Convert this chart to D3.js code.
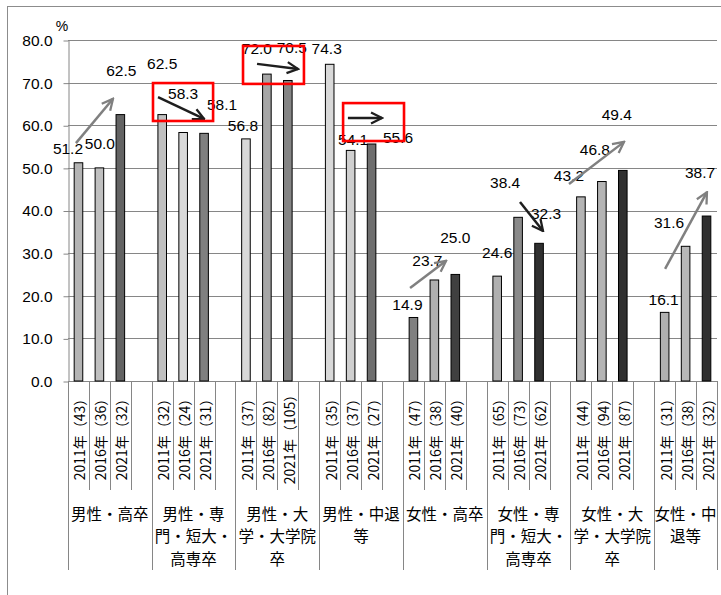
<!DOCTYPE html>
<html><head><meta charset="utf-8">
<script src="https://cdn.jsdelivr.net/npm/d3@7"></script>
<style>body{margin:0;background:#fff} svg{display:block}</style>
</head><body><svg id="c" width="721" height="595"></svg>
<script>
// ---- data ----
const groups = ["男性・高卒","男性・専門・短大・高専卒","男性・大学・大学院卒","男性・中退等","女性・高卒","女性・専門・短大・高専卒","女性・大学・大学院卒","女性・中退等"];
const groupLines = [["男性・高卒"],["男性・専","門・短大・","高専卒"],["男性・大","学・大学院","卒"],["男性・中退","等"],["女性・高卒"],["女性・専","門・短大・","高専卒"],["女性・大","学・大学院","卒"],["女性・中","退等"]];
const years = ["2011年","2016年","2021年"];
const counts = [[43,36,32],[32,24,31],[37,82,105],[35,37,27],[47,38,40],[65,73,62],[44,94,87],[31,38,32]];
const values = [[51.2,50.0,62.5],[62.5,58.3,58.1],[56.8,72.0,70.5],[74.3,54.1,55.6],[14.9,23.7,25.0],[24.6,38.4,32.3],[43.2,46.8,49.4],[16.1,31.6,38.7]];
const yTicks = [0,10,20,30,40,50,60,70,80];
const unitLabel = "%";

// ---- styles / layout (kept apart from data) ----
const barFills = [["#b4b4b4","#c0c0c0","#636363"],["#c0c0c0","#d9d9d9","#808080"],["#d9d9d9","#a6a6a6","#858585"],["#d9d9d9","#d0d0d0","#6e6e6e"],["#808080","#b0b0b0","#404040"],["#b0b0b0","#8a8a8a","#303030"],["#b4b4b4","#b4b4b4","#303030"],["#b0b0b0","#b8b8b8","#303030"]];
const labelOffsets = [[[-10.5,-14],[0.5,-24],[1,-44]],[[0,-51],[0,-38.5],[18,-29]],[[-3,-13.5],[-10,-26],[4,-32.5]],[[-3,-16],[2.5,-10.5],[26.5,-6.5]],[[-6,-13],[-7,-19.5],[0,-36.5]],[[0,-23.5],[-13,-34.5],[7,-30]],[[-12,-21],[-7,-32.5],[-6,-56]],[[-1,-13],[-16.5,-24],[-6.5,-43.5]]];
// annotations in (slot units, value units)
const arrows = [
  {from:[0.38,55.8], to:[2.15,66.2], color:"#808080"},
  {from:[4.30,66.6], to:[6.50,61.5], color:"#1e1e1e"},
  {from:[9.03,74.4], to:[10.99,73.2], color:"#1e1e1e"},
  {from:[13.37,61.7], to:[15.0,61.7], color:"#1e1e1e"},
  {from:[16.34,21.8], to:[18.06,28.2], color:"#808080"},
  {from:[21.59,42.0], to:[22.69,35.2], color:"#1e1e1e"},
  {from:[23.93,46.2], to:[26.56,56.1], color:"#808080"},
  {from:[28.52,26.3], to:[30.52,44.3], color:"#808080"}
];
const boxes = [
  {u:[4.06,6.93], v:[69.9,61.0]},
  {u:[8.36,11.27], v:[78.6,69.7]},
  {u:[13.14,16.05], v:[65.2,56.3]}
];

const numFont = "'Liberation Sans', Arial, sans-serif";
const jpFont = "'Noto Sans CJK JP', sans-serif";
const gridColor = "#868686";

const svg = d3.select("#c");

// outer frame
svg.append("rect").attr("x",7.5).attr("y",6.5).attr("width",800).attr("height",800)
  .attr("fill","none").attr("stroke","#8c8c8c").attr("stroke-width",1);

// slots
const slots = [];
groups.forEach((g,gi)=>{
  years.forEach((yr,yi)=>slots.push({key:gi+"_"+yi, gi, yi}));
  if(gi < groups.length-1) slots.push({key:gi+"_gap", gi, gap:true});
});

const x = d3.scaleBand().domain(slots.map(d=>d.key)).range([68,717]).padding(0);
const y = d3.scaleLinear().domain([0,80]).range([381,40]);
const step = x.step();
const xu = u => x.range()[0] + u*step;

// gridlines
svg.append("g").selectAll("line").data(yTicks).join("line")
  .attr("x1",68).attr("x2",717)
  .attr("y1",d=>Math.round(y(d))+0.5).attr("y2",d=>Math.round(y(d))+0.5)
  .attr("stroke",gridColor).attr("stroke-width",1);

// y axis
const yAxis = svg.append("g").attr("transform","translate(68.5,0.5)")
  .call(d3.axisLeft(y).tickValues(yTicks).tickSize(5).tickSizeOuter(0).tickPadding(11).tickFormat(d3.format(".1f")));
yAxis.select(".domain").attr("stroke",gridColor);
yAxis.selectAll(".tick line").attr("stroke",gridColor);
yAxis.selectAll(".tick text").attr("font-family",numFont).attr("font-size",15.5).attr("fill","#000");

svg.append("text").attr("x",62).attr("y",26).attr("text-anchor","middle").attr("dominant-baseline","central")
  .attr("font-family",numFont).attr("font-size",14).text(unitLabel);

// category axis lines
const nB = slots.length;
const bounds = d3.range(nB+1);
svg.append("g").selectAll("line").data(bounds).join("line")
  .attr("x1",i=>Math.round(xu(i))+0.5).attr("x2",i=>Math.round(xu(i))+0.5)
  .attr("y1",381).attr("y2",i=>(i%4===0||i===nB)?570:490)
  .attr("stroke",gridColor).attr("stroke-width",1);

// bars
const barData = [];
values.forEach((row,gi)=>row.forEach((v,yi)=>barData.push({gi,yi,v,key:gi+"_"+yi})));
const bw = x.bandwidth()*0.41;
svg.append("g").selectAll("rect").data(barData).join("rect")
  .attr("x",d=>x(d.key)+x.bandwidth()/2-bw/2)
  .attr("y",d=>y(d.v))
  .attr("width",bw).attr("height",d=>y(0)-y(d.v))
  .attr("fill",d=>barFills[d.gi][d.yi]).attr("stroke","#000").attr("stroke-width",1);

// category tick labels
svg.append("g").selectAll("text").data(barData).join("text")
  .attr("transform",d=>`translate(${x(d.key)+x.bandwidth()/2+1},436) rotate(-90)`)
  .attr("text-anchor","middle").attr("dominant-baseline","central")
  .attr("font-family",jpFont).attr("font-size",14).attr("fill","#000")
  .text(d=>`${years[d.yi]}（${counts[d.gi][d.yi]}）`);

// group labels
groupLines.forEach((lines,gi)=>{
  const x0 = x(gi+"_0");
  const x1 = x(gi+"_2") + x.bandwidth() + (gi<groups.length-1 ? step : 0);
  const cx = (x0+x1)/2;
  svg.append("text").attr("font-family",jpFont).attr("font-size",15.5).attr("fill","#000")
    .attr("text-anchor","middle")
    .selectAll("tspan").data(lines).join("tspan")
    .attr("x",cx).attr("y",(d,i)=>519.5+i*22.5).text(d=>d);
});

// data labels
svg.append("g").selectAll("text").data(barData).join("text")
  .attr("x",d=>x(d.key)+x.bandwidth()/2+labelOffsets[d.gi][d.yi][0])
  .attr("y",d=>y(d.v)+labelOffsets[d.gi][d.yi][1])
  .attr("text-anchor","middle").attr("dominant-baseline","central")
  .attr("font-family",numFont).attr("font-size",15.5).attr("fill","#000")
  .text(d=>d3.format(".1f")(d.v));

// arrow markers
const defs = svg.append("defs");
["#808080","#1e1e1e"].forEach((c,i)=>{
  defs.append("marker").attr("id","ah"+i).attr("markerUnits","userSpaceOnUse")
    .attr("viewBox","0 0 14 14").attr("markerWidth",14).attr("markerHeight",14)
    .attr("refX",12.5).attr("refY",7).attr("orient","auto")
    .append("path").attr("d","M1.5,1.5 L12.5,7 L1.5,12.5").attr("fill","none")
    .attr("stroke",c).attr("stroke-width",2.3);
});
svg.append("g").selectAll("line").data(arrows).join("line")
  .attr("x1",d=>xu(d.from[0])).attr("y1",d=>y(d.from[1]))
  .attr("x2",d=>xu(d.to[0])).attr("y2",d=>y(d.to[1]))
  .attr("stroke",d=>d.color).attr("stroke-width",2.5)
  .attr("marker-end",d=>d.color==="#808080"?"url(#ah0)":"url(#ah1)");

// red boxes
svg.append("g").selectAll("rect").data(boxes).join("rect")
  .attr("x",d=>xu(d.u[0])).attr("y",d=>y(d.v[0]))
  .attr("width",d=>xu(d.u[1])-xu(d.u[0])).attr("height",d=>y(d.v[1])-y(d.v[0]))
  .attr("fill","none").attr("stroke","#ff0000").attr("stroke-width",2.6);
</script>
</body></html>
